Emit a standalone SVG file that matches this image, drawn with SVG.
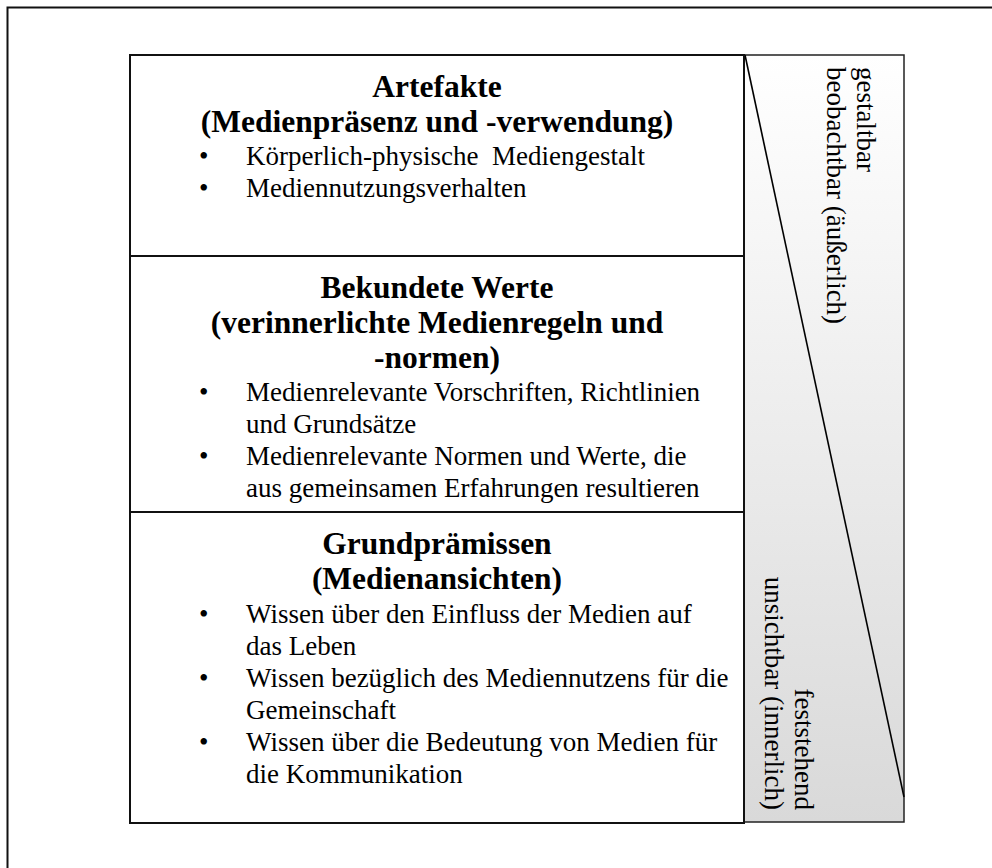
<svg xmlns="http://www.w3.org/2000/svg" width="992" height="868" viewBox="0 0 992 868">
  <style>
    .frame { fill: none; stroke: #111; stroke-width: 2; }
    .title { font-family: "Liberation Serif", "Times New Roman", serif; font-size: 31.5px; font-weight: bold; fill: #000; text-anchor: middle; }
    .body { font-family: "Liberation Serif", "Times New Roman", serif; font-size: 27px; fill: #000; }
    .side { font-family: "Liberation Serif", "Times New Roman", serif; font-size: 27px; fill: #000; }
  </style>
  <defs>
    <linearGradient id="depthShade" x1="0" y1="0" x2="0" y2="1">
      <stop offset="0" stop-color="#ffffff"/>
      <stop offset="1" stop-color="#d9d9d9"/>
    </linearGradient>
  </defs>

  <rect width="992" height="868" fill="#fff"/>
  <!-- page border, runs off the right and bottom edges -->
  <rect x="7.5" y="7.5" width="1000" height="900" fill="none" stroke="#111" stroke-width="2"/>

  <!-- side scale: visible vs. invisible -->
  <g id="scale">
    <rect x="744" y="55" width="160" height="767" fill="url(#depthShade)" stroke="#222" stroke-width="1.5"/>
    <line x1="745" y1="55" x2="904" y2="797" stroke="#000" stroke-width="1.6"/>
    <text class="side" transform="translate(857,67) rotate(90)">gestaltbar</text>
    <text class="side" transform="translate(827,67) rotate(90)">beobachtbar (äußerlich)</text>
    <text class="side" text-anchor="end" transform="translate(795,810) rotate(90)">feststehend</text>
    <text class="side" text-anchor="end" transform="translate(765,810) rotate(90)">unsichtbar (innerlich)</text>
  </g>

  <!-- main levels -->
  <g id="artefakte">
    <rect class="frame" x="130" y="55" width="614" height="201"/>
    <text class="title" x="437" y="97">Artefakte</text>
    <text class="title" x="437" y="132">(Medienpräsenz und -verwendung)</text>
    <text class="body" x="199" y="165">•</text>
    <text class="body" x="246" y="165" xml:space="preserve">Körperlich-physische  Mediengestalt</text>
    <text class="body" x="199" y="197">•</text>
    <text class="body" x="246" y="197">Mediennutzungsverhalten</text>
  </g>

  <g id="werte">
    <rect class="frame" x="130" y="256" width="614" height="256"/>
    <text class="title" x="437" y="298">Bekundete Werte</text>
    <text class="title" x="437" y="333">(verinnerlichte Medienregeln und</text>
    <text class="title" x="437" y="368">-normen)</text>
    <text class="body" x="199" y="401">•</text>
    <text class="body" x="246" y="401">Medienrelevante Vorschriften, Richtlinien</text>
    <text class="body" x="246" y="433">und Grundsätze</text>
    <text class="body" x="199" y="465">•</text>
    <text class="body" x="246" y="465">Medienrelevante Normen und Werte, die</text>
    <text class="body" x="246" y="497">aus gemeinsamen Erfahrungen resultieren</text>
  </g>

  <g id="grundpraemissen">
    <rect class="frame" x="130" y="512" width="614" height="311"/>
    <text class="title" x="437" y="554">Grundprämissen</text>
    <text class="title" x="437" y="589">(Medienansichten)</text>
    <text class="body" x="199" y="623">•</text>
    <text class="body" x="246" y="623">Wissen über den Einfluss der Medien auf</text>
    <text class="body" x="246" y="655">das Leben</text>
    <text class="body" x="199" y="687">•</text>
    <text class="body" x="246" y="687">Wissen bezüglich des Mediennutzens für die</text>
    <text class="body" x="246" y="719">Gemeinschaft</text>
    <text class="body" x="199" y="751">•</text>
    <text class="body" x="246" y="751">Wissen über die Bedeutung von Medien für</text>
    <text class="body" x="246" y="783">die Kommunikation</text>
  </g>
</svg>
